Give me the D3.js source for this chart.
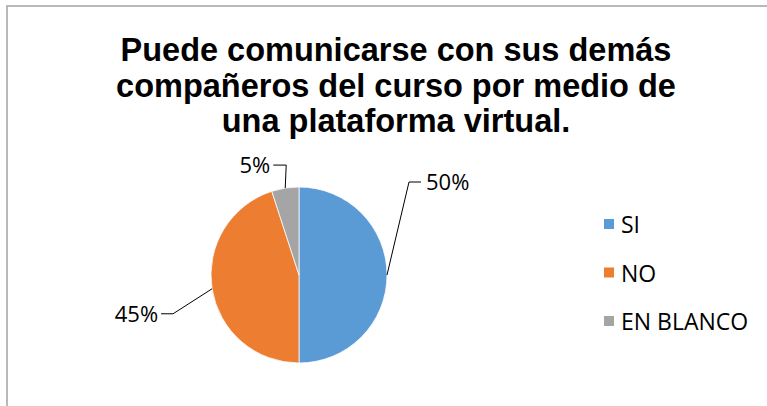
<!DOCTYPE html>
<html>
<head>
<meta charset="utf-8">
<script src="https://cdn.jsdelivr.net/npm/d3@7"></script>
<style>
  body { margin: 0; background: #fff; }
  svg { display: block; }
</style>
</head>
<body>
<svg id="chart" width="767" height="406"></svg>
<script>
// data
const categories = ["SI", "NO", "EN BLANCO"];
const values = [50, 45, 5];
const colors = ["#5B9BD5", "#ED7D31", "#A5A5A5"];
const titleLines = [
  "Puede comunicarse con sus demás",
  "compañeros del curso por medio de",
  "una plataforma virtual."
];

const width = 767, height = 406;
const svg = d3.select("#chart");

// chart area border (cut off at right / bottom)
svg.append("rect")
  .attr("x", 7).attr("y", 6)
  .attr("width", 900).attr("height", 600)
  .attr("fill", "none")
  .attr("stroke", "#a3a3a3")
  .attr("stroke-width", 1.5);

// title
svg.append("g")
  .attr("id", "titleGroup")
  .selectAll("text")
  .data(titleLines)
  .join("text")
  .attr("x", 396)
  .attr("y", (d, i) => 61 + i * 35.5)
  .attr("text-anchor", "middle")
  .style("font-family", "'Liberation Sans', Arial, sans-serif")
  .style("font-weight", "bold")
  .style("font-size", "32.5px")
  .attr("fill", "#000")
  .text(d => d);

// pie
const cx = 299, cy = 275, radius = 88;
const data = categories.map((c, i) => ({ cat: c, value: values[i], color: colors[i] }));
const pie = d3.pie().value(d => d.value).sort(null).startAngle(0).endAngle(2 * Math.PI);
const arcs = pie(data);
const arc = d3.arc().innerRadius(0).outerRadius(radius);

const pieGroup = svg.append("g")
  .attr("id", "pieGroup")
  .attr("transform", `translate(${cx},${cy})`);

pieGroup.selectAll("path")
  .data(arcs)
  .join("path")
  .attr("d", arc)
  .attr("fill", d => d.data.color)
  .attr("stroke", "#fff")
  .attr("stroke-width", 0.75);

// leader lines + labels: offset of elbow and end from the arc anchor
const labelLayout = [
  { elbow: [22, -93], end: [34, -93], anchor: "start" },
  { elbow: [-39, 25], end: [-51, 25], anchor: "end" },
  { elbow: [1, -23], end: [-12, -23], anchor: "end" }
];

const total = d3.sum(values);
const fmt = v => Math.round(v / total * 100) + "%";

const labelGroup = svg.append("g").attr("id", "labelGroup")
  .attr("transform", `translate(${cx},${cy})`);

arcs.forEach((a, i) => {
  const mid = (a.startAngle + a.endAngle) / 2;
  const p0 = [radius * Math.sin(mid), -radius * Math.cos(mid)];
  const L = labelLayout[i];
  const p1 = [p0[0] + L.elbow[0], p0[1] + L.elbow[1]];
  const p2 = [p0[0] + L.end[0], p0[1] + L.end[1]];
  labelGroup.append("path")
    .attr("d", d3.line()([p0, p1, p2]))
    .attr("fill", "none")
    .attr("stroke", "#000")
    .attr("stroke-width", 1);
  labelGroup.append("text")
    .attr("x", p2[0] + (L.anchor === "start" ? 5 : -3))
    .attr("y", p2[1] + 8)
    .attr("text-anchor", L.anchor)
    .style("font-family", "'Open Sans', 'Noto Sans', sans-serif")
    .style("font-size", "22px")
    .attr("fill", "#000")
    .text(fmt(a.data.value));
});

// legend
const legend = svg.append("g").attr("id", "legendGroup")
  .attr("transform", "translate(604,219)");

const item = legend.selectAll("g")
  .data(data)
  .join("g")
  .attr("transform", (d, i) => `translate(0,${i * 48.5})`);

item.append("rect")
  .attr("width", 10).attr("height", 10)
  .attr("fill", d => d.color);

item.append("text")
  .attr("x", 17)
  .attr("y", 14)
  .style("font-family", "'Open Sans', 'Noto Sans', sans-serif")
  .style("font-size", "23px")
  .attr("fill", "#000")
  .text(d => d.cat);
</script>
</body>
</html>
